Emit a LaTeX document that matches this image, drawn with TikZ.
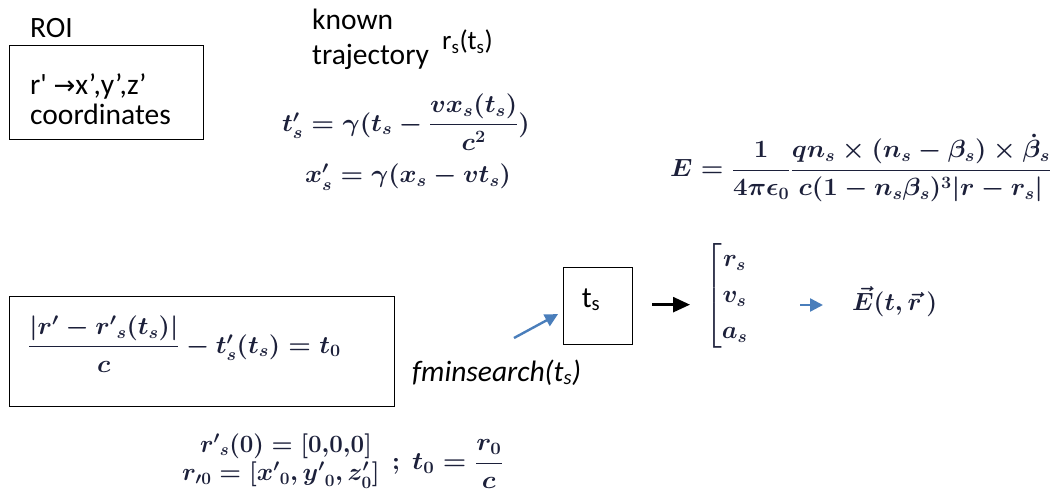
\documentclass[tikz,border=0pt]{standalone}
\usepackage{fontspec}
\setmainfont{Carlito}
\newfontfamily\dejavu{DejaVu Sans}
\usepackage{amsmath}
\usepackage{graphicx}
\usetikzlibrary{arrows.meta}
\definecolor{arrowblue}{RGB}{74,126,187}
\definecolor{mathink}{RGB}{28,32,58}
\begin{document}
\begin{tikzpicture}[x=1pt,y=-1pt,
  txt/.style={font=\fontsize{29.5}{34}\selectfont, inner sep=0pt},
  boxed/.style={draw, line width=1.3pt, inner sep=0pt},
  eq/.style={font=\fontsize{27}{33}\selectfont\boldmath, inner sep=0pt, text=mathink},
  blackarrow/.style={line width=2.6pt, -{Triangle[length=17pt,width=15pt]}},
  bluearrow/.style={draw=arrowblue, line width=2.4pt, -{Triangle[length=13pt,width=13pt]}, arrowblue}]
\useasboundingbox (0,0) rectangle (1054,497);
% ROI
\node[txt, anchor=base west] (roi) at (30,38) {ROI};
\node[boxed, minimum width=194pt, minimum height=94pt, anchor=north west] (roibox) at (9,45) {};
\node[txt, anchor=base west] (roi1) at (30,95) {r\textquotesingle\ {\dejavu\fontsize{26}{30}\selectfont →}x’,y’,z’};
\node[txt, anchor=base west] (roi2) at (30,125) {coordinates};
% known trajectory
\node[txt, anchor=base west] (known) at (312,30) {known};
\node[txt, anchor=base west] (traj) at (312,65) {trajectory};
\node[txt, anchor=base west, font=\fontsize{27}{30}\selectfont] (rs) at (442,50) {r\textsubscript{s}(t\textsubscript{s})};
% Lorentz eqs
\node[eq] (teq) at (406,122) {\scalebox{1.05}[1]{$t'_s=\gamma(t_s-\dfrac{v x_s(t_s)}{c^2})$}};
\node[eq] (xeq) at (408,177) {\scalebox{1.04}[1]{$x'_s=\gamma(x_s-v t_s)$}};
% E field
\node[eq, anchor=west] (Eeq) at (670,168) {\scalebox{1.04}[1]{$E=\dfrac{1}{4\pi\epsilon_0}\dfrac{q n_s\times(n_s-\beta_s)\times\dot{\beta}_s}{c(1-n_s\beta_s)^3|r-r_s|}$}};
% retarded time box
\node[boxed, minimum width=385pt, minimum height=110pt, anchor=north west] (retbox) at (9,296) {};
\node[eq, anchor=west] (reteq) at (28,344) {\scalebox{1.04}[1]{$\dfrac{|r'-{r'}_s(t_s)|}{c}-t'_s(t_s)=t_0$}};
% fminsearch
\node[txt, anchor=base west, font=\itshape\fontsize{29.5}{34}\selectfont] (fmin) at (412,381) {fminsearch(t\textsubscript{s})};
\node[boxed, minimum width=69pt, minimum height=77pt, anchor=north west] (tsbox) at (563,267) {};
\node[txt, anchor=base] (tstext) at (591,307) {t\textsubscript{s}};
\coordinate (fstart) at (514,338);
\draw[bluearrow] (fstart) -- ([xshift=-5pt,yshift=-8pt]tsbox.west);
% matrix
\node[eq, anchor=west] (mat) at (705,296) {$\left[\begin{matrix} r_s\\[3pt] v_s\\[3pt] a_s\end{matrix}\right.$};
\coordinate (bstart) at ([xshift=19pt,yshift=1.5pt]tsbox.east);
\path ([xshift=-15pt]mat.west) coordinate (mwest);
\draw[blackarrow] (bstart) -- (mwest |- bstart);
\node[eq, anchor=west] (Evec) at (852,302) {$\vec{E}(t,\vec{r}\,)$};
\path ([xshift=-52pt,yshift=-3pt]Evec.west) coordinate (bluestart);
\draw[bluearrow] (bluestart) -- ([xshift=23pt]bluestart);
% initial conditions
\node[eq] (init1) at (286,446) {\scalebox{0.97}[1]{${r'}_s(0)=[0{,}0{,}0]$}};
\node[eq, anchor=west] (init2) at (182,475) {$r_{\prime0}=[{x'}_0,{y'}_0,z'_0]$};
\node[eq, anchor=west] (init3) at ([xshift=12pt,yshift=11pt]init2.east) {\scalebox{1.08}[1]{$;\ t_0=\dfrac{r_0}{c}$}};
\end{tikzpicture}
\end{document}
